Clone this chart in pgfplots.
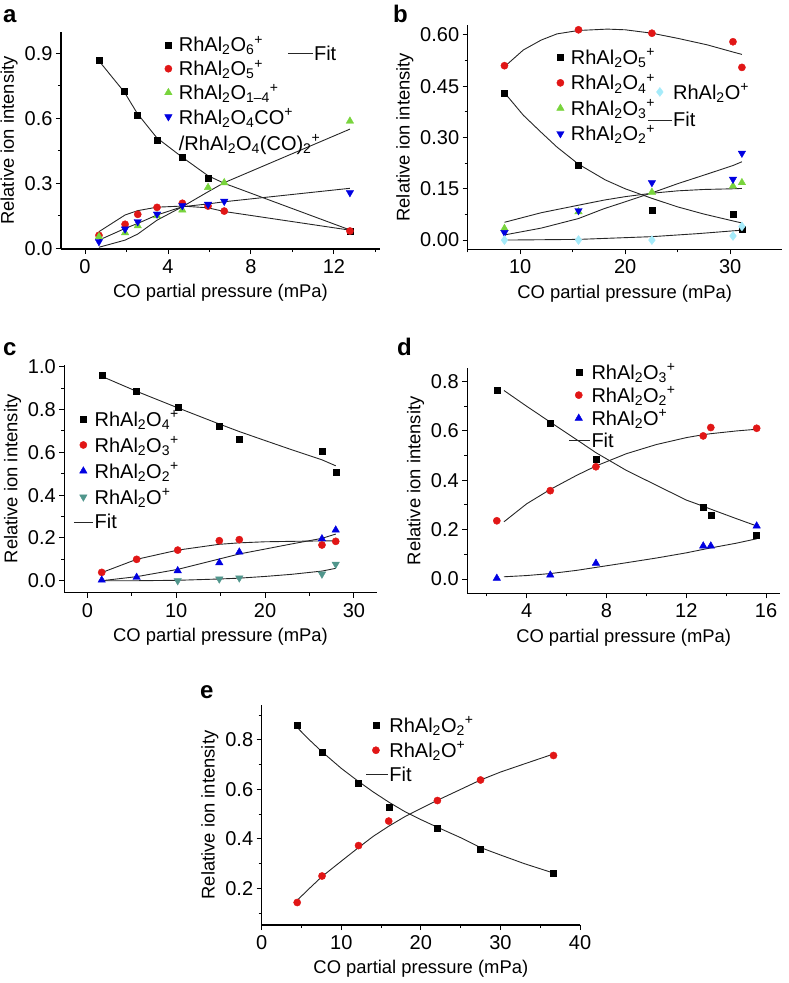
\documentclass[border=0pt]{standalone}
\usepackage{fontspec}
\setmainfont{Liberation Sans}
\usepackage{pgfplots}
\pgfplotsset{compat=1.18}

\definecolor{cred}{RGB}{225,22,22}
\definecolor{cgreen}{RGB}{120,212,60}
\definecolor{cblue}{RGB}{0,0,225}
\definecolor{ccyan}{RGB}{165,235,250}
\definecolor{cteal}{RGB}{80,150,140}

\newcommand\fs{\fontsize{20}{23}\selectfont}
\newcommand\lf{\fontsize{18.4}{22}\selectfont}
\newcommand\gf{\fontsize{20}{23}\selectfont}
\newcommand\RA{RhAl\textsubscript{2}O}

\pgfplotsset{
  legimg/.style={legend image code/.code={%
      \draw[mark repeat=2,mark phase=2,##1] plot coordinates {(0pt,0pt)(#1/2,0pt)(#1,0pt)};}},
  mk/.style={only marks, legend image code/.code={%
      \path (0pt,0pt) (#1,0pt); \draw[##1] plot coordinates {(#1/2,0pt)};}},
  mk/.default=19pt,
  panel/.style={
    scale only axis, anchor=south west,
    axis x line*=bottom, axis y line*=left,
    axis line style={line width=1.1pt},
    tick align=outside,
    major tick length=5pt, minor tick length=3pt,
    every tick/.style={line width=1pt, black},
    tick label style={font=\fs},
    xticklabel style={yshift=-2pt},
    label style={font=\lf},
    xlabel style={yshift=-4pt},
    ylabel={Relative ion intensity},
    xlabel={CO partial pressure (mPa)},
    /pgf/number format/assume math mode=true,
    clip=false,
    legend cell align=left,
    legend style={draw=none, fill=none, font=\gf, inner sep=0pt,
      row sep=7.5pt, nodes={inner sep=0.8pt}, anchor=north west},
    legimg=19.5pt,
  },
  legonly/.style={scale only axis, anchor=south west, hide axis,
    xmin=0, xmax=1, ymin=0, ymax=1, legend cell align=left,
    legend style={draw=none, fill=none, font=\gf, inner sep=0pt,
      row sep=10pt, nodes={inner sep=0.8pt}, anchor=north west}},
  fit/.style={black!85, line width=0.9pt, mark=none},
  sq/.style={mk, mark=square*, mark size=3pt, black},
  ci/.style={mk, mark=*, mark size=3.6pt, cred},
  tu/.style={mk, mark=triangle*, mark size=4.3pt, #1},
  td/.style={mk, mark=triangle*, mark size=4.3pt, mark options={rotate=180}, #1},
  di/.style={mk=24pt, mark=diamond*, mark size=4.5pt, ccyan},
  y1/.style={yticklabel style={/pgf/number format/.cd, fixed, fixed zerofill, precision=1}},
  y2/.style={yticklabel style={/pgf/number format/.cd, fixed, fixed zerofill, precision=2}},
}

\begin{document}
\begin{tikzpicture}
\useasboundingbox (0pt,0pt) rectangle (788pt,-983pt);

% panel letters
\node[font=\bfseries\fontsize{24}{24}\selectfont, anchor=base west, inner sep=0pt] at (3pt,-22pt) {a};
\node[font=\bfseries\fontsize{24}{24}\selectfont, anchor=base west, inner sep=0pt] at (393pt,-22pt) {b};
\node[font=\bfseries\fontsize{24}{24}\selectfont, anchor=base west, inner sep=0pt] at (3pt,-355pt) {c};
\node[font=\bfseries\fontsize{24}{24}\selectfont, anchor=base west, inner sep=0pt] at (397pt,-355pt) {d};
\node[font=\bfseries\fontsize{24}{24}\selectfont, anchor=base west, inner sep=0pt] at (200pt,-698pt) {e};

% ---------------- a ----------------
\begin{axis}[panel, y1, at={(61pt,-249pt)}, width=319pt, height=217pt,
  xmin=-1.16, xmax=14.22, ymin=-0.003, ymax=0.998,
  xtick={0,4,8,12}, minor xtick={2,6,10,14},
  ytick={0,0.3,0.6,0.9}, minor ytick={0.15,0.45,0.75},
  legend style={at={(0.3056,0.985)}, row sep=5.2pt}]
\addplot[sq] coordinates {(0.66,0.866) (1.90,0.724) (2.52,0.614) (3.46,0.500) (4.69,0.421) (5.93,0.323) (12.77,0.080)};
\addlegendentry{\RA\textsubscript{6}\textsuperscript{+}}
\addplot[ci] coordinates {(0.67,0.060) (1.93,0.111) (2.54,0.157) (3.47,0.189) (4.69,0.208) (5.93,0.195) (6.71,0.172) (12.77,0.080)};
\addlegendentry{\RA\textsubscript{5}\textsuperscript{+}}
\addplot[tu=cgreen] coordinates {(0.67,0.054) (1.93,0.072) (2.54,0.104) (3.47,0.150) (4.69,0.177) (5.93,0.281) (6.71,0.303) (12.77,0.587)};
\addlegendentry{\RA\textsubscript{1–4}\textsuperscript{+}}
\addplot[td=cblue] coordinates {(0.67,0.031) (1.93,0.089) (2.54,0.123) (3.47,0.158) (4.69,0.197) (5.93,0.203) (6.71,0.217) (12.77,0.257)};
\addlegendentry{\begin{tabular}[t]{@{}l@{}}\RA\textsubscript{4}CO\textsuperscript{+}\\[3pt]/\RA\textsubscript{4}(CO)\textsubscript{2}\textsuperscript{+}\end{tabular}}
\addplot[fit, forget plot] coordinates {(0.66,0.866) (1.90,0.720) (2.52,0.622) (3.46,0.510) (4.69,0.420) (5.93,0.335) (6.71,0.300) (12.77,0.085)};
\addplot[fit, forget plot] coordinates {(0.67,0.077) (1.93,0.154) (2.54,0.174) (3.47,0.190) (4.69,0.195) (5.93,0.187) (6.71,0.170) (12.77,0.084)};
\addplot[fit, forget plot] coordinates {(0.67,0.005) (1.93,0.038) (2.54,0.066) (3.47,0.130) (4.69,0.192) (5.93,0.261) (6.71,0.303) (12.77,0.550)};
\addplot[fit, forget plot] coordinates {(0.67,0.038) (1.93,0.092) (2.54,0.115) (3.47,0.154) (4.69,0.192) (5.93,0.205) (6.71,0.215) (12.77,0.277)};
\end{axis}
\begin{axis}[legonly, at={(61pt,-249pt)}, width=319pt, height=217pt,
  legimg=25pt, legend style={at={(0.709,0.941)}}]
\addlegendimage{fit}
\addlegendentry{Fit}
\end{axis}

% ---------------- b ----------------
\begin{axis}[panel, y2, at={(467.7pt,-249.3pt)}, width=314pt, height=224.3pt,
  xmin=5.0, xmax=34.9, ymin=-0.027, ymax=0.629,
  xtick={10,20,30}, minor xtick={5,15,25},
  ytick={0,0.15,0.30,0.45,0.60}, minor ytick={0.075,0.225,0.375,0.525},
  legend style={at={(0.2637,0.898)}, row sep=6.7pt}]
\addplot[sq] coordinates {(8.50,0.431) (15.55,0.220) (22.54,0.088) (30.26,0.075) (31.11,0.031)};
\addlegendentry{\RA\textsubscript{5}\textsuperscript{+}}
\addplot[ci] coordinates {(8.50,0.510) (15.55,0.615) (22.54,0.605) (30.26,0.580) (31.11,0.505)};
\addlegendentry{\RA\textsubscript{4}\textsuperscript{+}}
\addplot[tu=cgreen] coordinates {(8.50,0.034) (15.55,0.083) (22.54,0.140) (30.26,0.158) (31.11,0.168)};
\addlegendentry{\RA\textsubscript{3}\textsuperscript{+}}
\addplot[td=cblue] coordinates {(8.50,0.022) (15.55,0.086) (22.54,0.168) (30.26,0.178) (31.11,0.254)};
\addlegendentry{\RA\textsubscript{2}\textsuperscript{+}}
\addplot[di, forget plot] coordinates {(8.50,0.000) (15.55,0.000) (22.54,0.000) (30.26,0.012) (31.11,0.040)};
\addplot[fit, forget plot] coordinates {(8.5,0.507) (10.3,0.556) (12,0.585) (13.5,0.603) (15.55,0.613) (18.3,0.617) (20,0.615) (22.54,0.605) (25,0.590) (27.8,0.571) (30.26,0.550) (31.11,0.543)};
\addplot[fit, forget plot] coordinates {(8.5,0.431) (10.3,0.365) (12,0.315) (13.5,0.272) (15.55,0.222) (18.1,0.176) (20,0.150) (22.54,0.122) (25,0.097) (27.5,0.076) (30.26,0.056) (31.11,0.050)};
\addplot[fit, forget plot] coordinates {(8.5,0.052) (12,0.080) (15.55,0.102) (18,0.117) (20,0.127) (22.54,0.137) (25,0.144) (27.5,0.148) (30.26,0.150) (31.11,0.151)};
\addplot[fit, forget plot] coordinates {(8.5,0.015) (12,0.035) (15.55,0.063) (18,0.092) (20,0.112) (22.54,0.138) (25,0.165) (27.5,0.190) (30.26,0.218) (31.11,0.229)};
\addplot[fit, forget plot] coordinates {(8.5,0.000) (15.55,0.002) (22.54,0.010) (27,0.019) (31.11,0.029)};
\end{axis}
\begin{axis}[legonly, at={(467.7pt,-249.3pt)}, width=314pt, height=224.3pt,
  legimg=24pt, legend style={at={(0.5717,0.744)}}]
\addlegendimage{di}
\addlegendentry{\RA\textsuperscript{+}}
\addlegendimage{fit}
\addlegendentry{Fit}
\end{axis}

% ---------------- c ----------------
\begin{axis}[panel, y1, at={(64.3pt,-592.7pt)}, width=312.4pt, height=227.7pt,
  xmin=-2.59, xmax=32.56, ymin=-0.056, ymax=1.008,
  xtick={0,10,20,30}, minor xtick={5,15,25},
  ytick={0,0.2,0.4,0.6,0.8,1.0}, minor ytick={0.1,0.3,0.5,0.7,0.9},
  legend style={at={(0.0285,0.805)}, row sep=7.3pt}]
\addplot[sq] coordinates {(1.62,0.961) (5.55,0.886) (10.17,0.810) (14.80,0.723) (17.10,0.660) (26.40,0.607) (27.95,0.506)};
\addlegendentry{\RA\textsubscript{4}\textsuperscript{+}}
\addplot[ci] coordinates {(1.62,0.039) (5.55,0.100) (10.17,0.143) (14.85,0.187) (17.10,0.192) (26.40,0.167) (27.95,0.184)};
\addlegendentry{\RA\textsubscript{3}\textsuperscript{+}}
\addplot[tu=cblue] coordinates {(1.62,0.003) (5.55,0.016) (10.17,0.047) (14.85,0.084) (17.10,0.134) (26.40,0.196) (27.95,0.237)};
\addlegendentry{\RA\textsubscript{2}\textsuperscript{+}}
\addplot[td=cteal] coordinates {(10.17,0.000) (14.85,0.008) (17.10,0.013) (26.40,0.031) (27.95,0.077)};
\addlegendentry{\RA\textsuperscript{+}}
\addplot[fit] coordinates {(1.62,0.955) (5.55,0.885) (10.17,0.808) (14.8,0.733) (17.1,0.697) (20,0.655) (23,0.612) (26.4,0.565) (27.95,0.537)};
\addlegendentry{Fit}
\addplot[fit, forget plot] coordinates {(1.62,0.038) (5.55,0.100) (10.17,0.143) (14.8,0.170) (17.1,0.177) (20,0.182) (23,0.184) (26.4,0.186) (27.95,0.186)};
\addplot[fit, forget plot] coordinates {(1.62,0.000) (5.55,0.019) (10.17,0.053) (14.8,0.101) (17.1,0.125) (20,0.148) (23,0.172) (26.4,0.198) (27.95,0.218)};
\addplot[fit, forget plot] coordinates {(1.62,0.000) (5.55,0.000) (10.17,0.002) (14.8,0.008) (17.1,0.012) (20,0.020) (23,0.030) (26.4,0.045) (27.95,0.058)};
\end{axis}

% ---------------- d ----------------
\begin{axis}[panel, y1, at={(467.3pt,-593.3pt)}, width=312.7pt, height=225pt,
  xmin=1.02, xmax=16.7, ymin=-0.058, ymax=0.854,
  xtick={4,8,12,16}, minor xtick={2,6,10,14},
  ytick={0,0.2,0.4,0.6,0.8}, minor ytick={0.1,0.3,0.5,0.7},
  legimg=21pt, legend style={at={(0.324,1.026)}, row sep=4.4pt}]
\addplot[sq] coordinates {(2.50,0.766) (5.18,0.631) (7.47,0.485) (12.85,0.293) (13.23,0.257) (15.53,0.177)};
\addlegendentry{\RA\textsubscript{3}\textsuperscript{+}}
\addplot[ci] coordinates {(2.50,0.236) (5.18,0.358) (7.47,0.455) (12.85,0.580) (13.23,0.614) (15.53,0.611)};
\addlegendentry{\RA\textsubscript{2}\textsuperscript{+}}
\addplot[tu=cblue] coordinates {(2.50,0.003) (5.18,0.016) (7.47,0.064) (12.85,0.134) (13.23,0.134) (15.53,0.215)};
\addlegendentry{\RA\textsuperscript{+}}
\addplot[fit] coordinates {(2.86,0.764) (4,0.700) (5.18,0.636) (6.5,0.565) (7.47,0.512) (9,0.440) (10.5,0.380) (12,0.320) (12.85,0.295) (13.23,0.283) (14.5,0.245) (15.53,0.215)};
\addlegendentry{Fit}
\addplot[fit, forget plot] coordinates {(2.86,0.232) (4,0.305) (5.18,0.363) (6.5,0.420) (7.47,0.458) (9,0.508) (10.5,0.545) (12,0.573) (12.85,0.585) (13.23,0.589) (14.5,0.600) (15.53,0.607)};
\addplot[fit, forget plot] coordinates {(2.86,0.009) (4,0.014) (5.18,0.022) (6.5,0.035) (7.47,0.047) (9,0.066) (10.5,0.085) (12,0.106) (12.85,0.120) (13.23,0.126) (14.5,0.145) (15.53,0.163)};
\end{axis}

% ---------------- e ----------------
\begin{axis}[panel, y1, at={(261.7pt,-925pt)}, width=318.3pt, height=220pt,
  xmin=0, xmax=40, ymin=0.052, ymax=0.941,
  xtick={0,10,20,30,40}, minor xtick={5,15,25,35},
  ytick={0.2,0.4,0.6,0.8}, minor ytick={0.1,0.3,0.5,0.7,0.9},
  legimg=21.7pt, legend style={at={(0.327,0.951)}, row sep=6.2pt}]
\addplot[sq] coordinates {(4.46,0.858) (7.58,0.750) (12.17,0.627) (15.96,0.528) (22.08,0.445) (27.50,0.360) (36.67,0.263)};
\addlegendentry{\RA\textsubscript{2}\textsuperscript{+}}
\addplot[ci] coordinates {(4.46,0.143) (7.58,0.250) (12.17,0.373) (15.96,0.472) (22.08,0.555) (27.50,0.638) (36.67,0.737)};
\addlegendentry{\RA\textsuperscript{+}}
\addplot[fit] coordinates {(4.46,0.850) (6,0.800) (7.58,0.752) (10,0.685) (12.17,0.632) (14,0.590) (16,0.548) (18,0.510) (20,0.478) (22.08,0.447) (25,0.405) (27.5,0.365) (30,0.335) (33,0.300) (36.67,0.262)};
\addlegendentry{Fit}
\addplot[fit, forget plot] coordinates {(4.46,0.152) (6,0.200) (7.58,0.248) (10,0.310) (12.17,0.365) (14,0.410) (16,0.452) (18,0.490) (20,0.523) (22.08,0.556) (25,0.600) (27.5,0.638) (30,0.670) (33,0.703) (36.67,0.743)};
\end{axis}
\end{tikzpicture}
\end{document}
